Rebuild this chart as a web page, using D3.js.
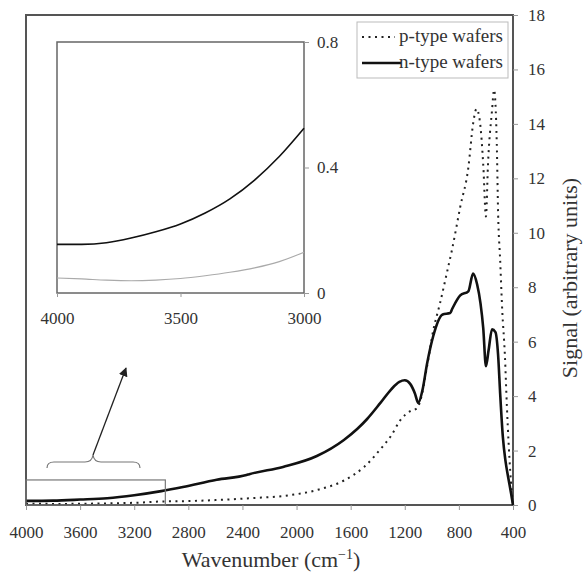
<!DOCTYPE html>
<html>
<head>
<meta charset="utf-8">
<script src="https://cdn.jsdelivr.net/npm/d3@7"></script>
<style>
  body { margin: 0; background: #fff; }
  svg { display: block; }
  svg text { font-family: "Liberation Serif", "Times New Roman", serif; }
</style>
</head>
<body>
<div id="chart"></div>
<script>
// main spectrum, n-type wafers
const nWave = [4000, 3800, 3600, 3400, 3200, 3000, 2840, 2590, 2370, 2350, 2100, 1850, 1650, 1550, 1480, 1380, 1300, 1240, 1200, 1160, 1125, 1100, 1070, 1035, 990, 920, 865, 850, 790, 730, 695, 665, 640, 620, 600, 580, 555, 530, 510, 495, 475, 455, 435, 415, 400];
const nSignal = [0.15, 0.16, 0.20, 0.25, 0.36, 0.51, 0.66, 0.93, 1.10, 1.13, 1.40, 1.80, 2.39, 2.80, 3.15, 3.75, 4.25, 4.52, 4.58, 4.45, 4.10, 3.75, 4.20, 5.20, 6.20, 7.00, 7.05, 7.20, 7.70, 7.85, 8.50, 8.10, 7.40, 6.50, 5.10, 5.70, 6.45, 6.35, 5.50, 4.10, 2.50, 1.60, 1.00, 0.45, 0];

// main spectrum, p-type wafers
const pWave = [4000, 3750, 3400, 3150, 3000, 2840, 2600, 2344, 2100, 1850, 1650, 1500, 1380, 1300, 1235, 1160, 1110, 1090, 1035, 990, 940, 890, 850, 790, 730, 695, 670, 645, 620, 600, 585, 555, 540, 520, 510, 495, 480, 460, 445, 420, 400];
const pSignal = [0.05, 0.04, 0.06, 0.09, 0.13, 0.14, 0.18, 0.25, 0.33, 0.55, 0.90, 1.40, 2.05, 2.55, 3.10, 3.45, 3.55, 3.75, 5.10, 6.40, 7.40, 8.50, 9.40, 10.95, 12.40, 14.00, 14.55, 14.10, 12.50, 10.60, 12.50, 14.50, 15.25, 13.30, 10.70, 9.00, 7.20, 5.50, 3.60, 1.20, 0];

// inset (zoom on 4000-3000)
const insetWave = [4000, 3900, 3800, 3700, 3600, 3500, 3400, 3300, 3200, 3100, 3000];
const insetN = [0.155, 0.155, 0.16, 0.175, 0.195, 0.22, 0.255, 0.30, 0.36, 0.435, 0.525];
const insetP = [0.048, 0.045, 0.041, 0.039, 0.041, 0.046, 0.055, 0.066, 0.08, 0.10, 0.13];

const xTicks = [4000, 3600, 3200, 2800, 2400, 2000, 1600, 1200, 800, 400];
const yTicks = [0, 2, 4, 6, 8, 10, 12, 14, 16, 18];
const insetXTicks = [4000, 3500, 3000];
const insetYTicks = [0, 0.4, 0.8];
const seriesNames = ["p-type wafers", "n-type wafers"];

const width = 583, height = 573;
const serif = "Liberation Serif";

const svg = d3.select("#chart").append("svg")
    .attr("width", width)
    .attr("height", height);

const x = d3.scaleLinear().domain([4000, 400]).range([26, 513]);
const y = d3.scaleLinear().domain([0, 18]).range([505, 15]);

const frameColor = "#555";
const textColor = "#333";

function styleAxis(g) {
    g.attr("font-family", serif);
    g.select(".domain").remove();
    g.selectAll("line").attr("stroke", "#999");
    g.selectAll("text").attr("fill", textColor).attr("font-family", serif).style("font-size", "17px");
}

// ---- main frame ----
svg.append("rect")
    .attr("x", x(4000)).attr("y", y(18))
    .attr("width", x(400) - x(4000)).attr("height", y(0) - y(18))
    .attr("fill", "none").attr("stroke", frameColor).attr("stroke-width", 2);

svg.append("g")
    .attr("transform", `translate(0,${y(0)})`)
    .call(d3.axisBottom(x).tickValues(xTicks).tickSize(5).tickPadding(16).tickFormat(d3.format("d")))
    .call(styleAxis);

svg.append("g")
    .attr("transform", `translate(${x(400)},0)`)
    .call(d3.axisRight(y).tickValues(yTicks).tickSize(5).tickPadding(10))
    .call(styleAxis);

// axis titles
const xt = svg.append("text")
    .attr("x", 271).attr("y", 567)
    .attr("text-anchor", "middle")
    .attr("fill", textColor)
    .attr("font-family", serif)
    .style("font-size", "22px");
xt.append("tspan").text("Wavenumber (cm");
xt.append("tspan").text("\u22121").attr("dy", -8).style("font-size", "14px");
xt.append("tspan").text(")").attr("dy", 8);

svg.append("text")
    .attr("transform", "translate(577,278) rotate(-90)")
    .attr("text-anchor", "middle")
    .attr("fill", textColor)
    .attr("font-family", serif)
    .style("font-size", "22px")
    .text("Signal (arbitrary units)");

// ---- main curves ----
const line = d3.line()
    .x(d => x(d[0]))
    .y(d => y(d[1]))
    .curve(d3.curveMonotoneX);

svg.append("path")
    .datum(d3.zip(pWave, pSignal))
    .attr("d", line)
    .attr("fill", "none")
    .attr("stroke", "#222")
    .attr("stroke-width", 2)
    .attr("stroke-dasharray", "2,4.5");

svg.append("path")
    .datum(d3.zip(nWave, nSignal))
    .attr("d", line)
    .attr("fill", "none")
    .attr("stroke", "#111")
    .attr("stroke-width", 2.6)
    .attr("stroke-linejoin", "round");

// zoom rectangle, brace and arrow
svg.append("rect")
    .attr("x", x(4000)).attr("y", y(0.92))
    .attr("width", x(2970) - x(4000)).attr("height", y(0) - y(0.92))
    .attr("fill", "none").attr("stroke", "#777").attr("stroke-width", 1.2);

svg.append("path")
    .attr("d", "M47,468 Q47,462 54,462 L85,462 Q92,462 93,455 Q94,462 101,462 L133,462 Q140,462 140,468")
    .attr("fill", "none").attr("stroke", "#777").attr("stroke-width", 1.2);

svg.append("defs").append("marker")
    .attr("id", "arrow")
    .attr("viewBox", "0 0 10 10")
    .attr("refX", 9).attr("refY", 5)
    .attr("markerWidth", 7).attr("markerHeight", 7)
    .attr("orient", "auto")
    .append("path")
    .attr("d", "M0,0 L10,5 L0,10 z")
    .attr("fill", "#222");

svg.append("line")
    .attr("x1", 93).attr("y1", 455)
    .attr("x2", 126).attr("y2", 368)
    .attr("stroke", "#222").attr("stroke-width", 1.3)
    .attr("marker-end", "url(#arrow)");

// ---- legend ----
const legend = svg.append("g");
legend.append("rect")
    .attr("x", 357).attr("y", 22).attr("width", 151).attr("height", 56)
    .attr("fill", "#fff").attr("stroke", "#bbb").attr("stroke-width", 1);
legend.append("line")
    .attr("x1", 362).attr("x2", 395).attr("y1", 37).attr("y2", 37)
    .attr("stroke", "#222").attr("stroke-width", 2).attr("stroke-dasharray", "2,4.5");
legend.append("line")
    .attr("x1", 362).attr("x2", 401).attr("y1", 63).attr("y2", 63)
    .attr("stroke", "#111").attr("stroke-width", 2.6);
legend.selectAll("text.lg")
    .data(seriesNames)
    .enter().append("text")
    .attr("class", "lg")
    .attr("x", 503)
    .attr("y", (d, i) => 42 + i * 26)
    .attr("text-anchor", "end")
    .attr("fill", textColor)
    .attr("font-family", serif)
    .style("font-size", "19px")
    .text(d => d);

// ---- inset ----
const ix = d3.scaleLinear().domain([4000, 3000]).range([57, 304]);
const iy = d3.scaleLinear().domain([0, 0.8]).range([293, 42]);

const inset = svg.append("g");
inset.append("rect")
    .attr("x", ix(4000)).attr("y", iy(0.8))
    .attr("width", ix(3000) - ix(4000)).attr("height", iy(0) - iy(0.8))
    .attr("fill", "#fff").attr("stroke", "#666").attr("stroke-width", 1.5);

inset.append("g")
    .attr("transform", `translate(0,${iy(0)})`)
    .call(d3.axisBottom(ix).tickValues(insetXTicks).tickSize(4).tickPadding(15).tickFormat(d3.format("d")))
    .call(styleAxis);

inset.append("g")
    .attr("transform", `translate(${ix(3000)},0)`)
    .call(d3.axisRight(iy).tickValues(insetYTicks).tickSize(5).tickPadding(8).tickFormat(d => d === 0 ? "0" : d3.format(".1f")(d)))
    .call(styleAxis);

const iline = d3.line()
    .x(d => ix(d[0]))
    .y(d => iy(d[1]))
    .curve(d3.curveMonotoneX);

inset.append("path")
    .datum(d3.zip(insetWave, insetP))
    .attr("d", iline)
    .attr("fill", "none")
    .attr("stroke", "#aaa")
    .attr("stroke-width", 1.1);

inset.append("path")
    .datum(d3.zip(insetWave, insetN))
    .attr("d", iline)
    .attr("fill", "none")
    .attr("stroke", "#111")
    .attr("stroke-width", 1.6);
</script>
</body>
</html>
